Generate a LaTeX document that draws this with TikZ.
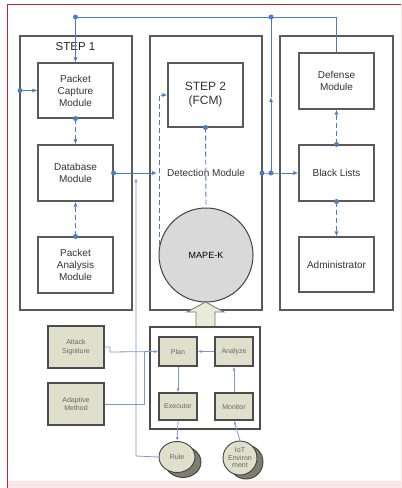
\documentclass[tikz,border=0pt]{standalone}
\usepackage{fontspec}
\setmainfont{Liberation Sans}
\usetikzlibrary{arrows.meta,shapes.geometric}
\definecolor{lb}{HTML}{4A7CC4}
\definecolor{lb2}{HTML}{7D9ACB}
\definecolor{pgrey}{HTML}{5A5A5A}
\definecolor{beige}{HTML}{DFE0CB}
\definecolor{arrowfill}{HTML}{E8EBD6}
\definecolor{shadowc}{HTML}{7E7E70}
\definecolor{framec}{HTML}{C0272D}
\definecolor{pinkc}{HTML}{FBE6E8}
\definecolor{mapefill}{HTML}{D9D9D9}
\begin{document}
\begin{tikzpicture}[x=1pt,y=-1pt,
  panel/.style={draw=pgrey,line width=1.3pt,rectangle,inner sep=0pt,minimum width=112pt,minimum height=274pt},
  modbox/.style={draw=pgrey,line width=1.1pt,fill=white,rectangle,inner sep=0pt,minimum width=75pt,minimum height=56pt,align=center,font=\fontsize{10}{12}\selectfont,text=black!80},
  lowbox/.style={draw=black!70,line width=1.1pt,fill=beige,rectangle,inner sep=0pt,minimum width=38pt,minimum height=28pt,font=\fontsize{7}{8.5}\selectfont,text=black!60,align=center},
  bline/.style={draw=lb,line width=0.9pt},
  dline/.style={draw=lb,line width=0.9pt,dash pattern=on 5pt off 3pt},
  arr/.style={-{Latex[length=5pt,width=4pt]}},
  larr/.style={-{Latex[length=4pt,width=3pt]}},
  dot/.style={circle,fill=lb,inner sep=0pt,minimum size=5pt},
  lline/.style={draw=lb2,line width=0.8pt},
  disk/.style={ellipse,draw=black!75,line width=0.9pt,inner sep=0pt,font=\fontsize{7}{7.5}\selectfont,text=black!60,align=center}
]
\useasboundingbox (0,0) rectangle (402,488);
% frame
\fill[pinkc] (7,481) rectangle (402,488);
\draw[framec,line width=1pt] (7,488) -- (7,4) -- (402,4);
\draw[pinkc,line width=1pt] (401,4) -- (401,488);

% panels
\node[panel] (p1) at (76,173) {};
\node[panel] (p2) at (206,173) {};
\node[panel,minimum width=113pt] (p3) at (336.5,173) {};

\node[font=\fontsize{11.5}{13}\selectfont,text=black!85] (s1) at (75.5,47) {STEP 1};

% modules
\node[modbox,minimum height=55pt] (pcm) at (75.5,90.5) {Packet\\Capture\\Module};
\node[modbox] (dbm) at (75.5,173) {Database\\Module};
\node[modbox] (pam) at (75.5,265) {Packet\\Analysis\\Module};
\node[modbox,minimum height=64pt,font=\fontsize{12}{14}\selectfont] (step2) at (205.5,95) {STEP 2\\(FCM)};
\node[modbox] (def) at (336.5,81) {Defense\\Module};
\node[modbox] (bl) at (336.5,173) {Black Lists};
\node[modbox,minimum height=55pt] (adm) at (336.5,264.5) {Administrator};

% MAPE-K
\node[circle,draw=black!75,line width=1pt,fill=mapefill,minimum size=94pt,inner sep=0pt,font=\fontsize{9}{10}\selectfont] (mape) at (206,255) {MAPE-K};
\node[font=\fontsize{10}{12}\selectfont,text=black!80] (detl) at (206,173) {Detection Module};

% block arrow
\draw[draw=black!55,fill=arrowfill,line width=0.8pt] (196,328) -- (196,312) -- (187,312) -- (205.5,302) -- (224,312) -- (215,312) -- (215,328);

% lower container and boxes
\node[draw=black!70,line width=1.1pt,rectangle,inner sep=0pt,minimum width=110pt,minimum height=102pt] (loop) at (205,378) {};
\node[lowbox,minimum height=29pt] (plan) at (178,351.5) {Plan};
\node[lowbox,minimum height=29pt] (analyze) at (234,351.5) {Analyze};
\node[lowbox,minimum height=27pt] (exec) at (178,406.5) {Executor};
\node[lowbox,minimum height=27pt] (monitor) at (234,406.5) {Monitor};
\node[lowbox,minimum width=56pt,minimum height=42pt] (attack) at (76,347) {Attack\\Signiture};
\node[lowbox,minimum width=56pt,minimum height=42pt] (adaptive) at (76,404) {Adaptive\\Method};

% disks
\node[disk,fill=shadowc,minimum width=36pt,minimum height=31pt] (ruleS) at (183,462) {};
\node[disk,fill=beige,minimum width=36pt,minimum height=31pt] (rule) at (177,457) {Rule};
\node[disk,fill=shadowc,minimum width=34pt,minimum height=34pt] (iotS) at (246,462) {};
\node[disk,fill=beige,minimum width=34pt,minimum height=34pt] (iot) at (240,458) {IoT\\Environ\\ment};

% top feedback lines
\coordinate (tA) at (75.5,17);
\coordinate (tB) at (271,17);
\coordinate (jA) at (262,173);
\coordinate (jB) at (271,173);
\coordinate (mB) at (271,97);
\draw[bline,arr] (jB) -- (mB);
\draw[bline] (mB) -- (tB);
\draw[bline] (tB) -| (def.north);
\draw[bline,arr] (tB) -- (tA) -- (pcm.north);
\node[dot] (dtA) at (tA) {};
\node[dot] (dtB) at (tB) {};

% left input
\coordinate (lin) at (20,90.5);
\draw[bline,arr] (lin) -- (pcm.west);
\node[dot] (dlin) at (lin) {};

% step 1 internal
\draw[dline,arr] (pcm.south) -- (dbm.north);
\node[dot] (dpcm) at (pcm.south) {};
\draw[dline,arr] (pam.north) -- (dbm.south);
\node[dot] (dpam) at (pam.north) {};

% database -> detection
\coordinate (detin) at (157,173);
\draw[bline,arr] (dbm.east) -- (detin);
\node[dot] (ddbm) at (dbm.east) {};

% detection -> black lists
\draw[bline,arr] (jA) -- (jB) -- (bl.west);
\node[dot] (djA) at (jA) {};
\node[dot] (djB) at (jB) {};

% right internal
\draw[dline,arr] (bl.north) -- (def.south);
\node[dot] (dbln) at (bl.north) {};
\draw[dline,arr] (bl.south) -- (adm.north);
\node[dot] (dbls) at (bl.south) {};

% step2 <-> mape
\draw[dline] (step2.south) -- (mape.north);
\node[dot] (dst2) at (step2.south) {};
\draw[dline,arr] (mape.168) |- (step2.west);

% rule feedback
\coordinate (rA) at (136,456);
\coordinate (rB) at (136,178);
\draw[lline,larr] (rule.west) -- (rA) -- (rB);

% lower connections
\coordinate (aA) at (110,347);
\coordinate (aB) at (110,352);
\coordinate (mA) at (144,404);
\coordinate (mB2) at (144,352);
\draw[lline,larr] (attack.east) -- (aA) -- (aB) -- (plan.west);
\draw[lline] (adaptive.east) -- (mA) -- (mB2);
\draw[lline,larr] (analyze.west) -- (plan.east);
\draw[lline,larr] (plan.south) -- (exec.north);
\draw[lline,larr] (exec.south) -- (rule.north);
\draw[lline,larr] (monitor.north) -- (analyze.south);
\draw[lline,larr] (iot.north) -- (monitor.south);
\end{tikzpicture}
\end{document}
